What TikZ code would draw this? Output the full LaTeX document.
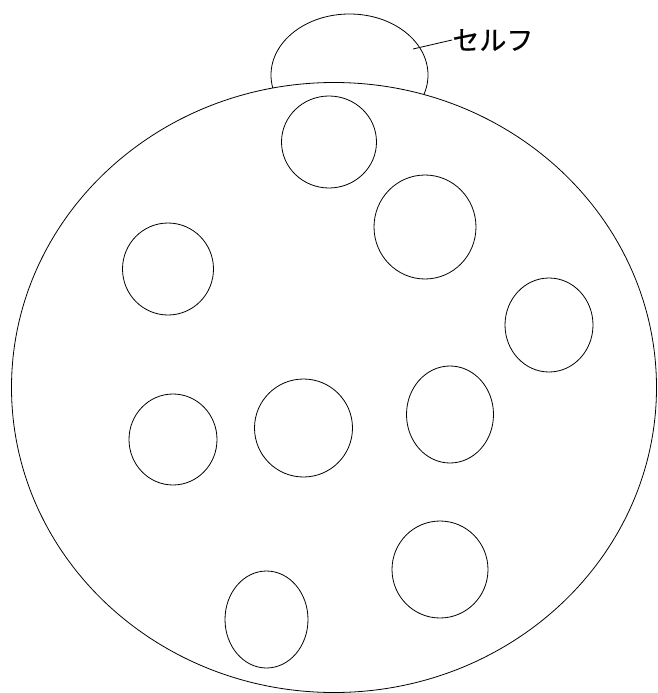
\documentclass[tikz,border=0pt]{standalone}
\usepackage{fontspec}
\newfontfamily\jpfont[FakeBold=0.6]{Noto Sans CJK JP}
\begin{document}
\begin{tikzpicture}[x=1pt,y=-1pt,line width=0.8pt,
  cell/.style={draw,black}]
\useasboundingbox (0,0) rectangle (658,693);
% self ellipse, only outside big ellipse
\begin{scope}[even odd rule]
\clip (0,0) rectangle (658,693) (334,387.5) ellipse [x radius=322.5, y radius=305];
\draw (349.5,75) ellipse [x radius=78.5, y radius=61];
\end{scope}
% main ellipse
\draw (334,387.5) ellipse [x radius=322.5, y radius=305];
% inner circles
\draw[cell] (329,142) ellipse [x radius=47.5, y radius=46];
\draw[cell] (425,227) ellipse [x radius=51, y radius=52];
\draw[cell] (168,269) ellipse [x radius=45.5, y radius=46];
\draw[cell] (549,325) ellipse [x radius=44, y radius=47];
\draw[cell] (173,439.5) ellipse [x radius=44, y radius=45.5];
\draw[cell] (303.5,428) ellipse [x radius=49, y radius=49];
\draw[cell] (450,414.5) ellipse [x radius=43.5, y radius=48.5];
\draw[cell] (440,569.5) ellipse [x radius=48, y radius=48.5];
\draw[cell] (266.5,619.5) ellipse [x radius=41.5, y radius=48.5];
% label
\node[anchor=west,inner sep=0pt,font=\jpfont\fontsize{27}{27}\selectfont] (lbl) at (452,40) {セルフ};
\coordinate (p) at (413,49);
\draw (p) -- (lbl.west);
\end{tikzpicture}
\end{document}
